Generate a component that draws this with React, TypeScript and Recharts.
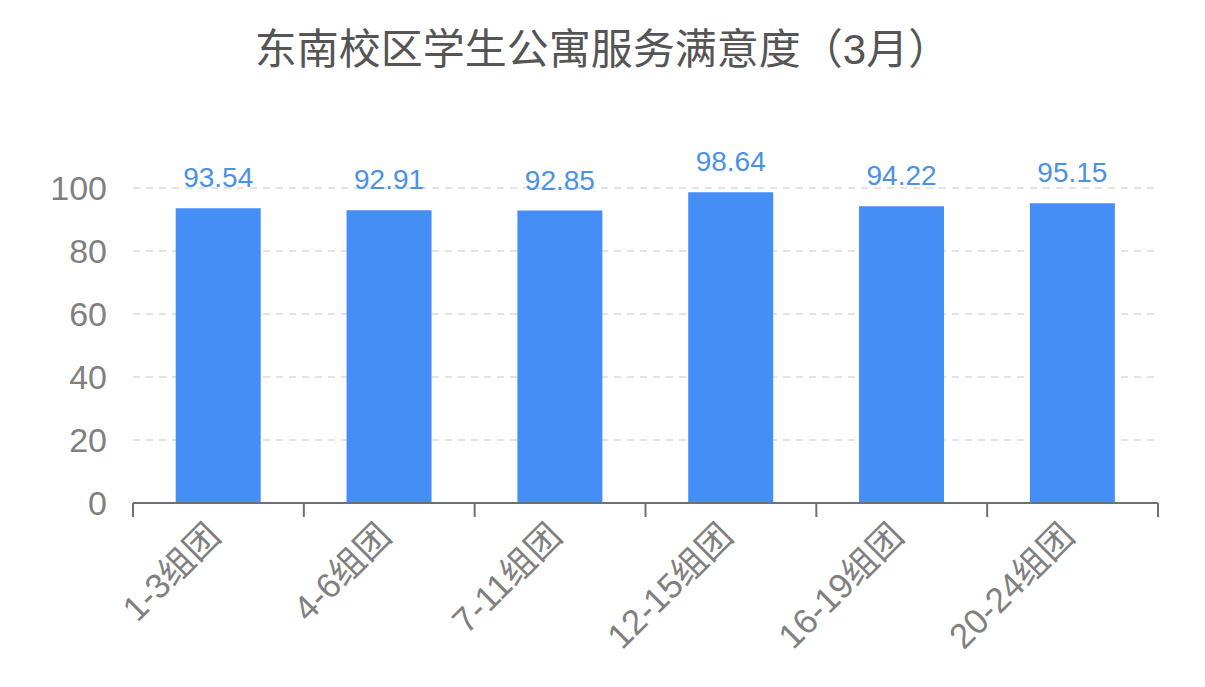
import React from "react";
import { BarChart, Bar, XAxis, YAxis, CartesianGrid, LabelList } from "recharts";

const categories = ["1-3组团", "4-6组团", "7-11组团", "12-15组团", "16-19组团", "20-24组团"];
const scores = [93.54, 92.91, 92.85, 98.64, 94.22, 95.15];
const yTicks = [0, 20, 40, 60, 80, 100];
const boundaryTicks = [0, 1, 2, 3, 4, 5, 6];

const data = categories.map((name, i) => ({ name, score: scores[i], pos: i + 0.5 }));

const FONT = '"Liberation Sans", "Noto Sans CJK SC", sans-serif';
const AXIS = "#6e7079";

const XTick = (props: any) => {
  const { x, y, payload } = props;
  const ax = x + 4;
  const ay = y + 34;
  return (
    <text
      x={ax}
      y={ay}
      transform={`rotate(-45, ${ax}, ${ay})`}
      textAnchor="end"
      fontSize={35}
      fill="#808080"
      fontFamily={FONT}
    >
      {payload.value}
    </text>
  );
};

const Empty = () => <g />;

export default function App() {
  return (
    <div style={{ position: "relative", width: 1205, height: 687, background: "#fff" }}>
      <style>{`body{margin:0}`}</style>
      <div
        style={{
          position: "absolute",
          top: 25,
          left: 0,
          width: 1205,
          textAlign: "center",
          fontSize: 42,
          lineHeight: "50px",
          color: "#555",
          fontFamily: FONT,
        }}
      >
        东南校区学生公寓服务满意度（3月）
      </div>
      <BarChart
        width={1205}
        height={687}
        data={data}
        margin={{ top: 188, right: 47, left: 0, bottom: 182 }}
        barCategoryGap="25%"
      >
        <CartesianGrid xAxisId="b" vertical={false} stroke="#e3e3e3" strokeWidth={2} strokeDasharray="7 6" />
        <XAxis
          xAxisId="a"
          type="number"
          dataKey="pos"
          domain={[0, 6]}
          ticks={boundaryTicks}
          height={1}
          tickSize={14}
          tick={<Empty />}
          axisLine={{ stroke: AXIS, strokeWidth: 2 }}
          tickLine={{ stroke: AXIS, strokeWidth: 2 }}
          allowDataOverflow
        />
        <XAxis
          xAxisId="b"
          dataKey="name"
          height={1}
          axisLine={false}
          tickLine={false}
          tickSize={0}
          tickMargin={0}
          interval={0}
          tick={<XTick />}
        />
        <YAxis
          domain={[0, 100]}
          ticks={yTicks}
          width={133}
          axisLine={false}
          tickLine={false}
          tickSize={0}
          tickMargin={26}
          tick={{ fontSize: 34, fill: "#808080", fontFamily: FONT }}
        />
        <Bar xAxisId="b" dataKey="score" fill="#448ef6" isAnimationActive={false}>
          <LabelList
            dataKey="score"
            position="top"
            offset={21}
            fill="#4b91e6"
            fontSize={28}
            fontFamily={FONT}
            formatter={(v: any) => Number(v).toFixed(2)}
          />
        </Bar>
      </BarChart>
    </div>
  );
}
